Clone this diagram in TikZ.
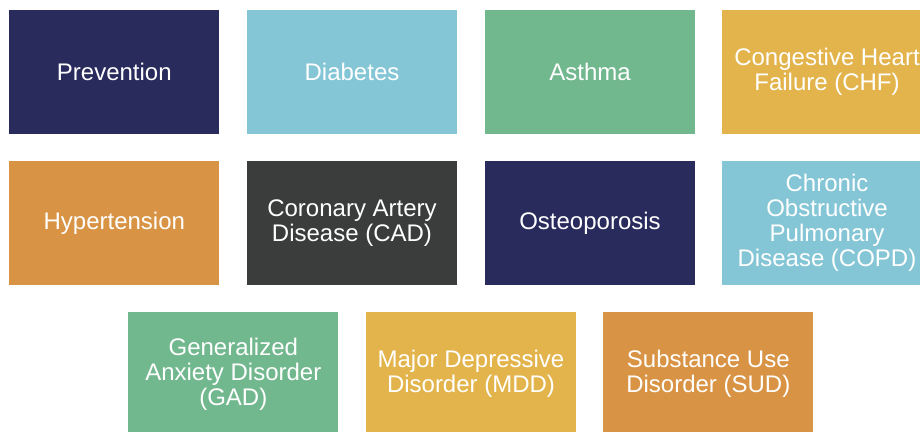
\documentclass[tikz,border=0pt]{standalone}
\usepackage{fontspec}
\setmainfont{Liberation Sans}
\usepackage{xcolor}
\definecolor{navy}{HTML}{292B5C}
\definecolor{skyblue}{HTML}{85C6D6}
\definecolor{sage}{HTML}{72B88E}
\definecolor{gold}{HTML}{E3B44B}
\definecolor{ochre}{HTML}{D89344}
\definecolor{charcoal}{HTML}{3B3D3C}

\begin{document}
\begin{tikzpicture}[x=1pt,y=-1pt,
	tile/.style={minimum width=210pt,minimum height=124pt,inner sep=0pt,text=white,align=center,font=\fontsize{24}{25}\selectfont}]
	\useasboundingbox (0,0) rectangle (920,431);
	\clip (0,0) rectangle (920,431);

	% first row
	\node (prevention) [tile,fill=navy] at (114.3,72) {Prevention};
	\node (diabetes) [tile,fill=skyblue] at (352,72) {Diabetes};
	\node (asthma) [tile,fill=sage] at (590,72) {Asthma};
	\node (chf) [tile,fill=gold] at (827,72) {Congestive Heart\\Failure (CHF)};

	% second row
	\node (hypertension) [tile,fill=ochre] at (114.3,223) {Hypertension};
	\node (cad) [tile,fill=charcoal] at (352,223) {Coronary Artery\\Disease (CAD)};
	\node (osteo) [tile,fill=navy] at (590,223) {Osteoporosis};
	\node (copd) [tile,fill=skyblue] at (827,223) {Chronic\\Obstructive\\Pulmonary\\Disease (COPD)};

	% third row
	\node (gad) [tile,fill=sage] at (233.3,374) {Generalized\\Anxiety Disorder\\(GAD)};
	\node (mdd) [tile,fill=gold] at (471,374) {Major Depressive\\Disorder (MDD)};
	\node (sud) [tile,fill=ochre] at (708.3,374) {Substance Use\\Disorder (SUD)};
\end{tikzpicture}
\end{document}
